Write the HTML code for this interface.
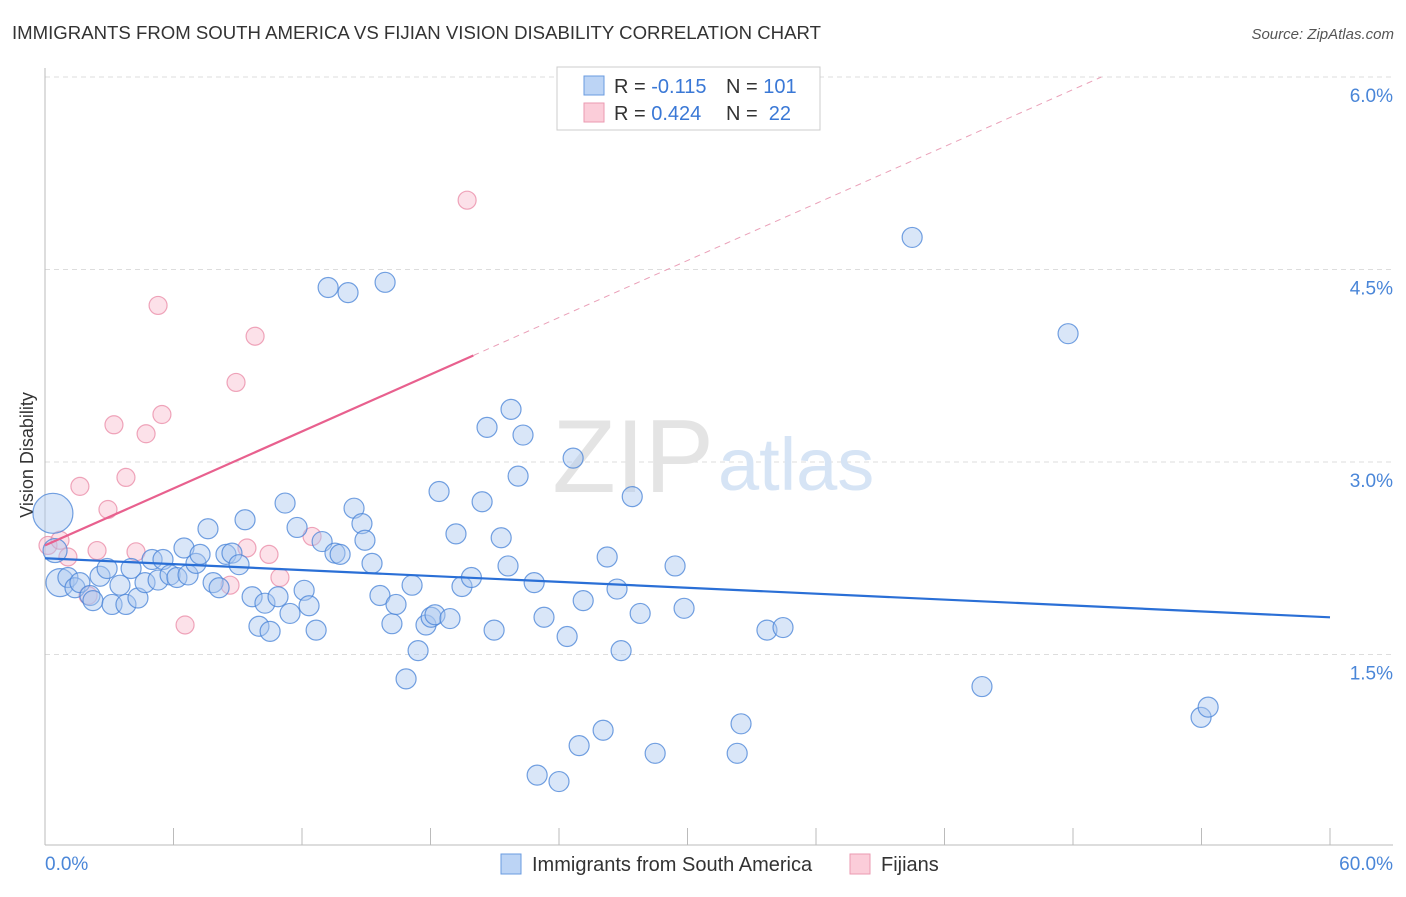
<!DOCTYPE html>
<html><head><meta charset="utf-8"><style>
body{margin:0;background:#fff;font-family:"Liberation Sans",sans-serif}
svg text{font-family:"Liberation Sans",sans-serif}
</style></head><body>
<svg width="1406" height="892">
<text x="12" y="39" font-size="18.6" fill="#333">IMMIGRANTS FROM SOUTH AMERICA VS FIJIAN VISION DISABILITY CORRELATION CHART</text>
<text x="1394" y="39" font-size="15" fill="#555" font-style="italic" text-anchor="end">Source: ZipAtlas.com</text>
<g id="grid"></g>
<text x="714" y="492" font-size="104" fill="#e4e4e4" text-anchor="end" font-family="Liberation Serif">ZIP</text>
<text x="718" y="490" font-size="74" fill="#d6e4f5">atlas</text>
<line x1="45" y1="68" x2="45" y2="845" stroke="#bbb"/>
<line x1="45" y1="845" x2="1393" y2="845" stroke="#bbb"/>
<text x="33" y="455" font-size="18" fill="#333" text-anchor="middle" transform="rotate(-90 33 455)">Vision Disability</text>
<text x="45" y="870" font-size="19" fill="#4a86d8">0.0%</text>
<text x="1393" y="870" font-size="19" fill="#4a86d8" text-anchor="end">60.0%</text>
<g id="marks"></g>
<g>
<rect x="557" y="67" width="263" height="63" fill="#fff" stroke="#ccc"/>
<rect x="584" y="76" width="20" height="19" fill="#bcd4f5" stroke="#6a9be0"/>
<rect x="584" y="103" width="20" height="19" fill="#fbcdd9" stroke="#eb9ab1"/>
<text x="614" y="93" font-size="20" fill="#333">R = <tspan fill="#3a78d6">-0.115</tspan></text>
<text x="726" y="93" font-size="20" fill="#333">N = <tspan fill="#3a78d6">101</tspan></text>
<text x="614" y="120" font-size="20" fill="#333">R = <tspan fill="#3a78d6">0.424</tspan></text>
<text x="726" y="120" font-size="20" fill="#333">N = <tspan fill="#3a78d6">&#160;22</tspan></text>
</g>
<g>
<rect x="501" y="854" width="20" height="20" fill="#bcd4f5" stroke="#6a9be0"/>
<text x="532" y="871" font-size="20" fill="#333">Immigrants from South America</text>
<rect x="850" y="854" width="20" height="20" fill="#fbcdd9" stroke="#eb9ab1"/>
<text x="881" y="871" font-size="20" fill="#333">Fijians</text>
</g>
</svg>
<script>
const blueX=[0.37,0.47,0.70,1.07,1.40,1.63,2.10,2.24,2.57,2.90,3.13,3.50,3.78,4.02,4.34,4.67,5.00,5.28,5.51,5.84,6.16,6.49,6.68,7.05,7.24,7.61,7.85,8.13,8.45,8.73,9.06,9.34,9.67,9.99,10.27,10.51,10.88,11.21,11.44,11.77,12.10,12.33,12.66,12.94,13.22,13.54,13.78,14.15,14.43,14.80,14.94,15.27,15.64,15.88,16.20,16.39,16.86,17.14,17.42,17.79,18.03,18.21,18.40,18.91,19.19,19.47,19.91,20.41,20.64,20.97,21.30,21.62,21.76,22.09,22.32,22.84,22.98,23.30,24.00,24.38,24.66,24.94,25.13,26.06,26.25,26.71,26.90,27.42,27.79,28.49,29.42,29.84,32.32,32.50,33.71,34.46,40.49,43.75,47.77,53.98,54.31];
const blueY=[2.60,2.31,2.06,2.10,2.02,2.06,1.96,1.92,2.11,2.17,1.89,2.04,1.89,2.17,1.94,2.06,2.24,2.08,2.24,2.12,2.10,2.33,2.12,2.21,2.28,2.48,2.06,2.02,2.28,2.29,2.20,2.55,1.95,1.72,1.90,1.68,1.95,2.68,1.82,2.49,2.00,1.88,1.69,2.38,4.36,2.29,2.28,4.32,2.64,2.52,2.39,2.21,1.96,4.40,1.74,1.89,1.31,2.04,1.53,1.73,1.79,1.81,2.77,1.78,2.44,2.03,2.10,2.69,3.27,1.69,2.41,2.19,3.41,2.89,3.21,2.06,0.56,1.79,0.51,1.64,3.03,0.79,1.92,0.91,2.26,2.01,1.53,2.73,1.82,0.73,2.19,1.86,0.73,0.96,1.69,1.71,4.75,1.25,4.00,1.01,1.09];
const blueSize=[2,1.2,1.4];
const pinkX=[0.14,0.70,1.07,1.63,2.01,2.43,2.94,3.22,3.78,4.25,4.72,5.28,5.46,6.54,8.64,8.92,9.43,9.81,10.46,10.97,12.47,19.71];
const pinkY=[2.35,2.39,2.26,2.81,1.96,2.31,2.63,3.29,2.88,2.30,3.22,4.22,3.37,1.73,2.04,3.62,2.33,3.98,2.28,2.10,2.42,5.04];
const blueTrend=[2.25,-0.00767];
const pinkTrend=[2.35,0.074];
const yTicks=[1.5,3.0,4.5,6.0];
const xTicks=[0,6,12,18,24,30,36,42,48,54,60];
const NS='http://www.w3.org/2000/svg';
const xs=v=>45+v/60*1285;
const ys=v=>847-v/1.5*192.5;
function mk(t,a,p){const e=document.createElementNS(NS,t);for(const k in a)e.setAttribute(k,a[k]);p.appendChild(e);return e;}
const grid=document.getElementById('grid'),marks=document.getElementById('marks');
yTicks.forEach(v=>{
 const l=mk('line',{x1:45,x2:1393,y1:ys(v),y2:ys(v),stroke:'#ddd','stroke-dasharray':'5,4'},grid);
 
 
 const t=mk('text',{x:1393,y:ys(v)+25,'font-size':19,fill:'#4a86d8','text-anchor':'end'},grid);
 t.textContent=v.toFixed(1)+'%';
 
 
});
xTicks.forEach(v=>{
 const l=mk('line',{x1:xs(v),x2:xs(v),y1:828,y2:845,stroke:'#bbb'},grid);
 
 
});
pinkX.forEach((x,i)=>{
 const c=mk('circle',{cx:xs(x),cy:ys(pinkY[i]),r:9,fill:'rgba(248,180,200,0.4)',stroke:'rgba(232,130,160,0.7)','stroke-width':1.2},marks);
 
 
});
blueX.forEach((x,i)=>{
 const r=10*(blueSize[i]||1);
 const c=mk('circle',{cx:xs(x),cy:ys(blueY[i]),r:r,fill:'rgba(170,200,240,0.45)',stroke:'rgba(70,130,215,0.75)','stroke-width':1.2},marks);
 
 
});
const bl=mk('line',{x1:xs(0),y1:ys(blueTrend[0]),x2:xs(60),y2:ys(blueTrend[0]+blueTrend[1]*60),stroke:'#2a6fd6','stroke-width':2.2},marks);


const pl=mk('line',{x1:xs(0),y1:ys(pinkTrend[0]),x2:xs(20),y2:ys(pinkTrend[0]+pinkTrend[1]*20),stroke:'#e8608e','stroke-width':2.2},marks);


const xe=(6.0-pinkTrend[0])/pinkTrend[1];
const pd=mk('line',{x1:xs(20),y1:ys(pinkTrend[0]+pinkTrend[1]*20),x2:xs(xe),y2:ys(6.0),stroke:'#eaa0b8','stroke-width':1,'stroke-dasharray':'6,5'},marks);


</script>
</body></html>
